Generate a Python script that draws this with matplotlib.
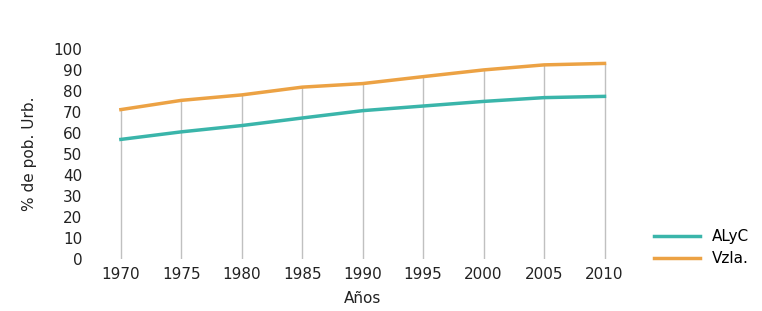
import matplotlib.pyplot as plt

years = [1970, 1975, 1980, 1985, 1990, 1995, 2000, 2005, 2010]
alyc = [57.0, 60.6, 63.6, 67.2, 70.7, 72.9, 75.1, 76.9, 77.5]
vzla = [71.2, 75.6, 78.2, 81.9, 83.6, 86.9, 90.1, 92.5, 93.2]
yticks = list(range(0, 101, 10))

plt.rcParams['font.family'] = ['DejaVu Sans']

fig = plt.figure(figsize=(7.62, 3.11), dpi=100)
ax = fig.add_axes([0.119, 0.167, 0.714, 0.675])

# drop lines from top series down to zero
tops = [max(a, v) for a, v in zip(alyc, vzla)]
ax.vlines(years, 0, tops, color='#c0c0c0', linewidth=1, zorder=1)

ax.plot(years, alyc, color='#3ab5aa', linewidth=2.5, label='ALyC', zorder=3)
ax.plot(years, vzla, color='#eca244', linewidth=2.5, label='Vzla.', zorder=3)

ax.set_xlim(1967.5, 2012.5)
ax.set_ylim(0, 100)
ax.set_xticks(years)
ax.set_yticks(yticks)
ax.tick_params(length=0, labelsize=11, colors='#222222', pad=6)
for s in ax.spines.values():
    s.set_visible(False)

ax.set_xlabel('Años', fontsize=11, color='#222222', labelpad=6)
ax.set_ylabel('% de pob. Urb.', fontsize=11, color='#222222', labelpad=12)

ax.legend(loc='lower left', bbox_to_anchor=(1.01, -0.1), frameon=False,
          fontsize=11, handlelength=3, labelspacing=0.45)

fig.savefig('out.png', dpi=100)
